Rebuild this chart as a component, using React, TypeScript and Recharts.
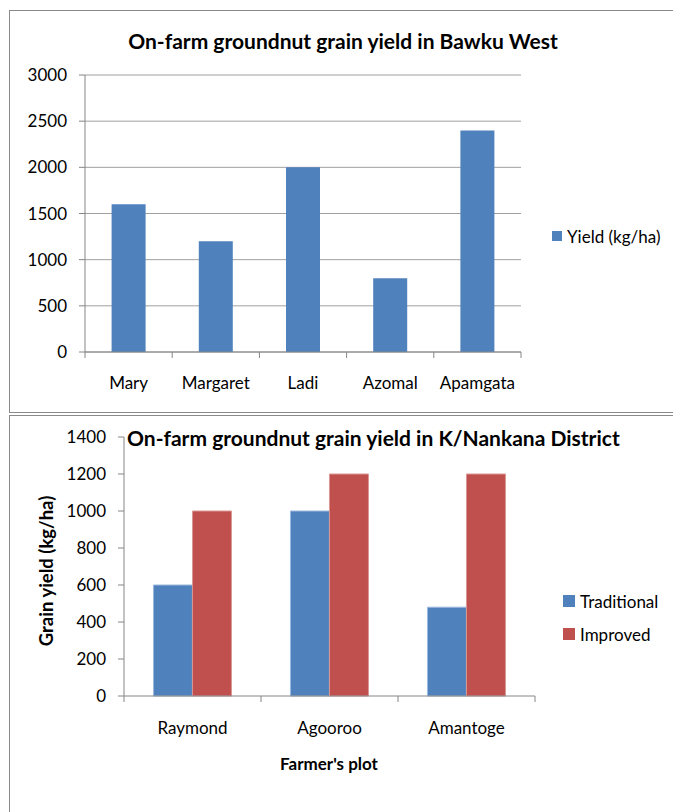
import React from 'react';
import { BarChart, Bar, XAxis, YAxis, CartesianGrid } from 'recharts';

// ---- Data: Bawku West ----
const bawkuFarmers = ['Mary', 'Margaret', 'Ladi', 'Azomal', 'Apamgata'];
const bawkuYield = [1600, 1200, 2000, 800, 2400];
const bawkuTicks = [0, 500, 1000, 1500, 2000, 2500, 3000];
const bawkuSeriesName = 'Yield (kg/ha)';
const bawkuTitle = 'On-farm groundnut grain yield in Bawku West';

// ---- Data: K/Nankana ----
const nankanaPlots = ['Raymond', 'Agooroo', 'Amantoge'];
const traditionalYield = [600, 1000, 480];
const improvedYield = [1000, 1200, 1200];
const nankanaTicks = [0, 200, 400, 600, 800, 1000, 1200, 1400];
const nankanaSeries = ['Traditional', 'Improved'];
const nankanaTitle = 'On-farm groundnut grain yield in K/Nankana District';
const nankanaYLabel = 'Grain yield (kg/ha)';
const nankanaXLabel = "Farmer's plot";

const BLUE = '#4F81BD';
const RED = '#C0504D';
const AXIS = '#868686';
const GRID = '#A0A0A0';
const FONT = 'Lato, "Noto Sans", sans-serif';

const bawkuData = bawkuFarmers.map((name, i) => ({ name, yield: bawkuYield[i] }));
const nankanaData = nankanaPlots.map((name, i) => ({
  name,
  traditional: traditionalYield[i],
  improved: improvedYield[i],
}));

const BoundaryTick = (props: any) => {
  const { x, y, payload, index, visibleTicksCount, half, labelDy } = props;
  return (
    <g>
      <line x1={x - half} x2={x - half} y1={y} y2={y + 6} stroke={AXIS} strokeWidth={1} />
      {index === visibleTicksCount - 1 && (
        <line x1={x + half} x2={x + half} y1={y} y2={y + 6} stroke={AXIS} strokeWidth={1} />
      )}
      <text
        x={x}
        y={y + labelDy}
        textAnchor="middle"
        dominantBaseline="central"
        fontSize={17}
        fill="#000"
        fontFamily={FONT}
      >
        {payload.value}
      </text>
    </g>
  );
};

const LegendItem = ({ color, label, left, top, size }: any) => (
  <div style={{ position: 'absolute', left, top, height: 20, display: 'flex', alignItems: 'center' }}>
    <div style={{ width: size, height: size, background: color, marginRight: 5 }} />
    <span style={{ fontSize: 17, fontFamily: FONT, color: '#000', whiteSpace: 'nowrap' }}>{label}</span>
  </div>
);

export default function App() {
  // top chart geometry (page coords)
  const tPlotL = 85, tPlotR = 521, tTop = 75, tBottom = 352, tH = 412, W = 673;
  const tHalf = (tPlotR - tPlotL) / bawkuFarmers.length / 2;
  // bottom chart geometry
  const bY0 = 415, bH = 397;
  const bPlotL = 124, bPlotR = 535, bTop = 437, bBottom = 696;
  const bHalf = (bPlotR - bPlotL) / nankanaPlots.length / 2;

  return (
    <div style={{ position: 'absolute', left: 0, top: 0, width: W, height: 812, overflow: 'hidden', background: '#fff', fontFamily: FONT }}>
      {/* frames */}
      <div style={{ position: 'absolute', left: 9, top: 10, width: 700, height: 401, borderTop: '1px solid #8a8a8a', borderLeft: '1px solid #8a8a8a', borderBottom: '1px solid #8a8a8a' }} />
      <div style={{ position: 'absolute', left: 9, top: 415, width: 700, height: 420, borderTop: '1px solid #8a8a8a', borderLeft: '1px solid #8a8a8a' }} />

      {/* top chart */}
      <div style={{ position: 'absolute', left: 0, top: 0 }}>
        <BarChart
          width={W}
          height={tH}
          data={bawkuData}
          margin={{ top: tTop, right: W - tPlotR, bottom: tH - tBottom - 40, left: 0 }}
          barCategoryGap="30.5%"
        >
          <CartesianGrid vertical={false} stroke={GRID} />
          <XAxis
            dataKey="name"
            height={40}
            tickLine={false}
            tickSize={0}
            tickMargin={0}
            axisLine={{ stroke: AXIS }}
            interval={0}
            tick={<BoundaryTick half={tHalf} labelDy={30} />}
          />
          <YAxis
            width={tPlotL}
            domain={[0, 3000]}
            ticks={bawkuTicks}
            interval={0}
            tickSize={6}
            tickMargin={12}
            axisLine={{ stroke: AXIS }}
            tickLine={{ stroke: AXIS }}
            tick={{ fill: '#000', fontSize: 17, fontFamily: FONT }}
          />
          <Bar dataKey="yield" name={bawkuSeriesName} fill={BLUE} isAnimationActive={false} />
        </BarChart>
      </div>
      <div style={{ position: 'absolute', left: 343, top: 40, transform: 'translate(-50%, -50%)', fontSize: 21, fontWeight: 700, whiteSpace: 'nowrap', color: '#000' }}>
        {bawkuTitle}
      </div>
      <LegendItem color={BLUE} label={bawkuSeriesName} left={552} top={226} size={10} />

      {/* bottom chart */}
      <div style={{ position: 'absolute', left: 0, top: bY0 }}>
        <BarChart
          width={W}
          height={bH}
          data={nankanaData}
          margin={{ top: bTop - bY0, right: W - bPlotR, bottom: bH - (bBottom - bY0) - 40, left: 0 }}
          barCategoryGap="21.5%"
          barGap={0}
        >
          <XAxis
            dataKey="name"
            height={40}
            tickLine={false}
            tickSize={0}
            tickMargin={0}
            axisLine={{ stroke: AXIS }}
            interval={0}
            tick={<BoundaryTick half={bHalf} labelDy={31} />}
          />
          <YAxis
            width={bPlotL}
            domain={[0, 1400]}
            ticks={nankanaTicks}
            interval={0}
            tickSize={6}
            tickMargin={12}
            axisLine={{ stroke: AXIS }}
            tickLine={{ stroke: AXIS }}
            tick={{ fill: '#000', fontSize: 17, fontFamily: FONT }}
          />
          <Bar dataKey="traditional" name={nankanaSeries[0]} fill={BLUE} stroke="#9DB9DD" strokeWidth={1} isAnimationActive={false} />
          <Bar dataKey="improved" name={nankanaSeries[1]} fill={RED} stroke="#D99694" strokeWidth={1} isAnimationActive={false} />
        </BarChart>
      </div>
      <div style={{ position: 'absolute', left: 127, top: 437, transform: 'translateY(-50%)', fontSize: 21, fontWeight: 700, whiteSpace: 'nowrap', color: '#000' }}>
        {nankanaTitle}
      </div>
      <div style={{ position: 'absolute', left: 46, top: 571, transform: 'translate(-50%, -50%) rotate(-90deg)', fontSize: 18.5, fontWeight: 700, whiteSpace: 'nowrap', color: '#000' }}>
        {nankanaYLabel}
      </div>
      <div style={{ position: 'absolute', left: 329, top: 763, transform: 'translate(-50%, -50%)', fontSize: 17, fontWeight: 700, whiteSpace: 'nowrap', color: '#000' }}>
        {nankanaXLabel}
      </div>
      <LegendItem color={BLUE} label={nankanaSeries[0]} left={563} top={591} size={12} />
      <LegendItem color={RED} label={nankanaSeries[1]} left={563} top={624} size={12} />
    </div>
  );
}
